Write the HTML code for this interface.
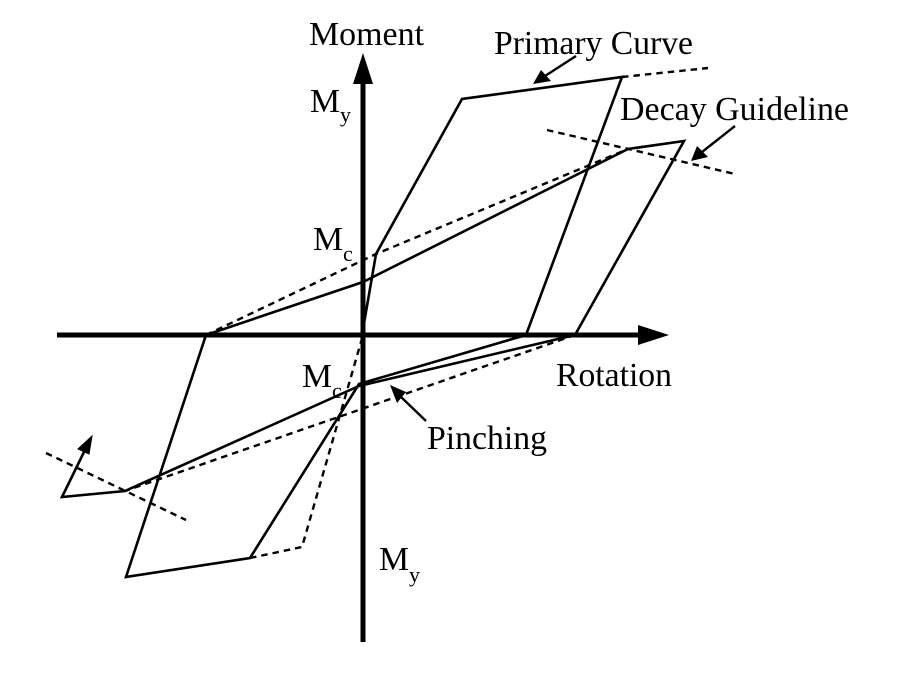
<!DOCTYPE html>
<html>
<head>
<meta charset="utf-8">
<style>
html,body{margin:0;padding:0;background:#fff;width:906px;height:677px;overflow:hidden}
svg{display:block}
text{font-family:"Liberation Serif",serif;fill:#000;font-size:33.8px}
text.s{font-size:22px}
.l{fill:none;stroke:#000;stroke-width:2.6;stroke-linejoin:miter}
.d{fill:none;stroke:#000;stroke-width:2.4;stroke-dasharray:6.5 5}
</style>
</head>
<body>
<svg width="906" height="677" viewBox="0 0 906 677" xmlns="http://www.w3.org/2000/svg">
<!-- dashed -->
<polyline class="d" points="622,77 708,68"/>
<polyline class="d" points="206,335 376,254 628,149"/>
<polyline class="d" points="575,335 125,491"/>
<polyline class="d" points="250,558 302,547 363,335"/>
<polyline class="d" points="547,130 735,174"/>
<polyline class="d" points="46,453 186,520"/>
<!-- axes -->
<line x1="363" y1="80" x2="363" y2="642" stroke="#000" stroke-width="5"/>
<polygon points="363,53 353,84 373,84" fill="#000"/>
<line x1="57" y1="335" x2="640" y2="335" stroke="#000" stroke-width="5"/>
<polygon points="669,335 638,325 638,345" fill="#000"/>
<!-- curve -->
<polyline class="l" points="362,335 376,254 462,99 622,77 526,335 359,384 250,558 126,577 206,335 363,282 628,149 684,141 575,335 359,386 125,491 62,497 84,452"/>
<polygon points="92,436 78,449 89,454" fill="#000" stroke="#000" stroke-width="1"/>
<!-- pointers -->
<line x1="576" y1="56" x2="545" y2="76" stroke="#000" stroke-width="2.4"/>
<polygon points="533,84 541,70 551,81" fill="#000"/>
<line x1="735" y1="126" x2="702" y2="152" stroke="#000" stroke-width="2.4"/>
<polygon points="691,161 697,146 708,157" fill="#000"/>
<line x1="426" y1="421" x2="400" y2="396" stroke="#000" stroke-width="2.4"/>
<polygon points="390,385 406,392 397,403" fill="#000"/>
<!-- labels -->
<text x="309" y="45" textLength="115" lengthAdjust="spacingAndGlyphs">Moment</text>
<text x="494" y="54" textLength="199" lengthAdjust="spacingAndGlyphs">Primary Curve</text>
<text x="620" y="120" textLength="229" lengthAdjust="spacingAndGlyphs">Decay Guideline</text>
<text x="556" y="386" textLength="116" lengthAdjust="spacingAndGlyphs">Rotation</text>
<text x="427" y="449" textLength="120" lengthAdjust="spacingAndGlyphs">Pinching</text>
<text x="310" y="112">M</text><text class="s" x="340" y="122">y</text>
<text x="313" y="250">M</text><text class="s" x="343" y="261">c</text>
<text x="302" y="387">M</text><text class="s" x="332" y="398">c</text>
<text x="379" y="570">M</text><text class="s" x="409" y="582">y</text>
</svg>
</body>
</html>
